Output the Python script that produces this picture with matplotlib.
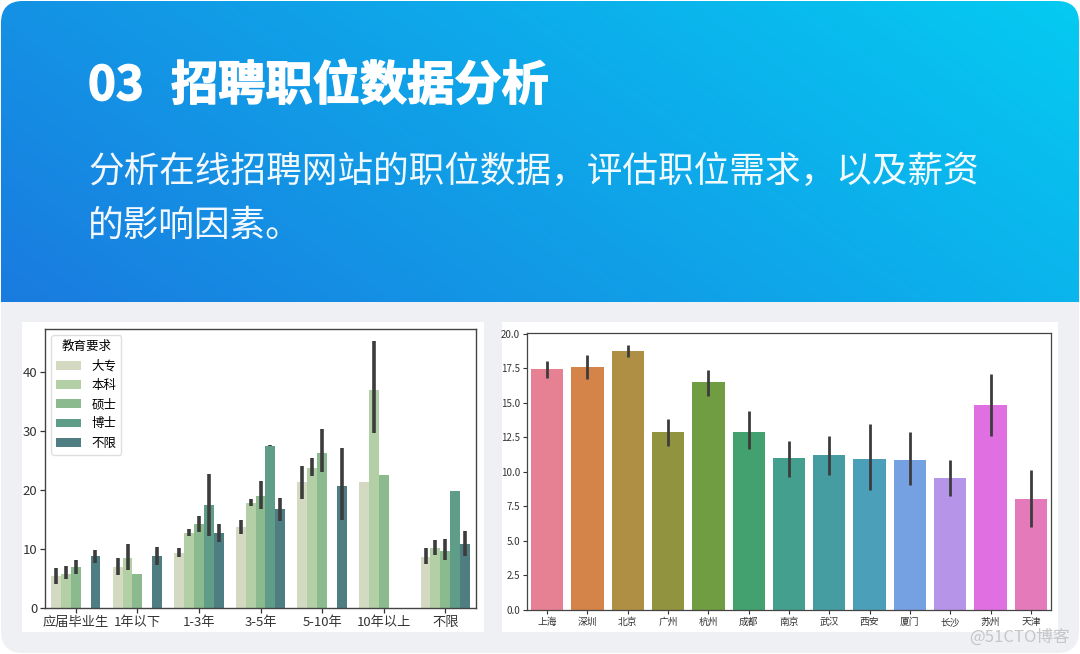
import numpy as np
import matplotlib
matplotlib.use("Agg")
import matplotlib.pyplot as plt
from matplotlib.patches import FancyBboxPatch
from matplotlib.colors import to_rgb
import matplotlib.patheffects as pe
import seaborn as sns

plt.rcParams['font.family'] = ['Noto Sans CJK SC', 'DejaVu Sans']

nan = np.nan

# 左图: 工作经验 / 教育要求 -> 平均薪资 (均值, 置信区间下限, 上限)
exp_labels = ["应届毕业生", "1年以下", "1-3年", "3-5年", "5-10年", "10年以上", "不限"]
edu_labels = ["大专", "本科", "硕士", "博士", "不限"]

dazhuan_mean = [5.4, 6.9, 9.35, 13.8, 21.3, 21.4, 8.7]
dazhuan_lo = [4.1, 5.6, 8.7, 12.6, 18.5, nan, 7.4]
dazhuan_hi = [6.7, 8.5, 10.2, 14.9, 24.0, nan, 10.2]

benke_mean = [5.8, 8.4, 12.75, 17.85, 23.8, 37.0, 10.2]
benke_lo = [5.0, 6.5, 12.2, 17.3, 22.4, 29.6, 9.0]
benke_hi = [7.1, 10.9, 13.4, 18.5, 25.4, 45.3, 11.6]

shuoshi_mean = [6.9, 5.8, 14.2, 19.0, 26.3, 22.5, 9.6]
shuoshi_lo = [5.8, nan, 12.8, 16.7, 23.0, nan, 8.1]
shuoshi_hi = [8.1, nan, 15.6, 21.5, 30.3, nan, 11.7]

boshi_mean = [nan, nan, 17.45, 27.5, nan, nan, 19.9]
boshi_lo = [nan, nan, 12.2, 27.4, nan, nan, nan]
boshi_hi = [nan, nan, 22.7, 27.7, nan, nan, nan]

buxian_mean = [8.8, 8.8, 12.75, 16.8, 20.7, nan, 10.9]
buxian_lo = [7.6, 7.3, 11.2, 14.7, 14.9, nan, 8.8]
buxian_hi = [9.9, 10.4, 14.3, 18.7, 27.1, nan, 13.1]

# 右图: 城市 -> 平均薪资
cities = ["上海", "深圳", "北京", "广州", "杭州", "成都", "南京", "武汉", "西安", "厦门", "长沙", "苏州", "天津"]
city_mean = [17.44, 17.63, 18.77, 12.87, 16.5, 12.87, 11.01, 11.2, 10.92, 10.87, 9.59, 14.83, 8.04]
city_lo = [16.79, 16.7, 18.29, 11.88, 15.5, 11.67, 9.61, 9.78, 8.7, 9.06, 8.29, 12.6, 6.04]
city_hi = [18.07, 18.5, 19.23, 13.82, 17.42, 14.44, 12.27, 12.6, 13.48, 12.9, 10.87, 17.08, 10.12]

edu_colors = ["#d4d9c2", "#b3cfa6", "#8bba8f", "#5f9d88", "#4f7e82"]
err_color = "#3c3c3c"

W, H = 1080, 654
fig = plt.figure(figsize=(W / 100, H / 100), dpi=100)

# 背景: 圆角卡片 + 蓝色渐变标题栏
bg = fig.add_axes([0, 0, 1, 1], zorder=0)
bg.set_xlim(0, W)
bg.set_ylim(H, 0)
bg.axis('off')

card = FancyBboxPatch((1, 1), W - 2, H - 2, boxstyle="round,pad=0,rounding_size=22",
                      fc="#eff0f4", ec="none")
bg.add_patch(card)

gh, gw = 302, W
xx, yy = np.meshgrid(np.linspace(0, 1, gw), np.linspace(0, 1, gh))
t = 0.72 * xx + 0.28 * (1 - yy)
c0 = np.array(to_rgb("#1a7bdf"))
c1 = np.array(to_rgb("#05cbf2"))
grad = c0[None, None, :] * (1 - t[..., None]) + c1[None, None, :] * t[..., None]
im = bg.imshow(grad, extent=(0, W, gh, 0), aspect='auto', zorder=1)
im.set_clip_path(card)
bg.set_xlim(0, W)
bg.set_ylim(H, 0)

for x0, x1 in [(22, 484), (502, 1058)]:
    bg.add_patch(plt.Rectangle((x0, 322), x1 - x0, 310, fc="white", ec="none", zorder=2))

heavy = [pe.withStroke(linewidth=1.0, foreground="white")]
bg.text(88, 86, "03", color="white", fontsize=34, fontweight="black", va="center", zorder=3,
        path_effects=heavy)
bg.text(171, 86, "招聘职位数据分析", color="white", fontsize=34, fontweight="black",
        va="center", zorder=3, path_effects=heavy)
bg.text(88, 172, "分析在线招聘网站的职位数据，评估职位需求，以及薪资", color="white",
        fontsize=25.7, va="center", zorder=3, alpha=0.95)
bg.text(88, 226, "的影响因素。", color="white", fontsize=25.7, va="center", zorder=3, alpha=0.95)
bg.text(1070, 637, "@51CTO博客", color="#c6c6ca", fontsize=12, ha="right", va="center", zorder=3)

# 左图
ax1 = fig.add_axes([45 / W, 1 - 608 / H, 431 / W, 279 / H], zorder=2)
x = np.arange(len(exp_labels))
bw = 0.16
groups = [
    (dazhuan_mean, dazhuan_lo, dazhuan_hi),
    (benke_mean, benke_lo, benke_hi),
    (shuoshi_mean, shuoshi_lo, shuoshi_hi),
    (boshi_mean, boshi_lo, boshi_hi),
    (buxian_mean, buxian_lo, buxian_hi),
]
for i, (m, lo, hi) in enumerate(groups):
    pos = x + (i - 2) * bw
    m = np.array(m, dtype=float)
    ok = ~np.isnan(m)
    ax1.bar(pos[ok], m[ok], width=bw, color=edu_colors[i], label=edu_labels[i], linewidth=0)
    ax1.vlines(pos, lo, hi, color=err_color, linewidth=2.6)

ax1.set_xlim(-0.5, len(exp_labels) - 0.5)
ax1.set_ylim(0, 47.3)
ax1.set_xticks(x)
ax1.set_xticklabels(exp_labels)
ax1.set_yticks([0, 10, 20, 30, 40])
ax1.tick_params(labelsize=9.5, length=3.5, width=0.9, colors="#333333", pad=2)
for s in ax1.spines.values():
    s.set_color("#444444")
    s.set_linewidth(1.0)
leg = ax1.legend(title="教育要求", loc="upper left", fontsize=9, title_fontsize=9,
                 handlelength=2.0, handleheight=0.7, borderpad=0.4, labelspacing=0.5,
                 framealpha=0.8, edgecolor="#d8d8d8")

# 右图
ax2 = fig.add_axes([527 / W, 1 - 610 / H, 524 / W, 277.5 / H], zorder=2)
city_colors = sns.color_palette("husl", len(cities), desat=0.75)
cx = np.arange(len(cities))
ax2.bar(cx, city_mean, width=0.8, color=city_colors, linewidth=0)
ax2.vlines(cx, city_lo, city_hi, color=err_color, linewidth=2.0)
ax2.set_xlim(-0.5, len(cities) - 0.5)
ax2.set_ylim(0, 20.1)
ax2.set_xticks(cx)
ax2.set_xticklabels(cities)
ax2.set_yticks(np.arange(0, 20.1, 2.5))
ax2.set_yticklabels([f"{v:.1f}" for v in np.arange(0, 20.1, 2.5)])
ax2.tick_params(labelsize=7, length=3, width=0.8, colors="#333333", pad=2)
for s in ax2.spines.values():
    s.set_color("#444444")
    s.set_linewidth(0.9)

fig.savefig("out.png", dpi=100)
